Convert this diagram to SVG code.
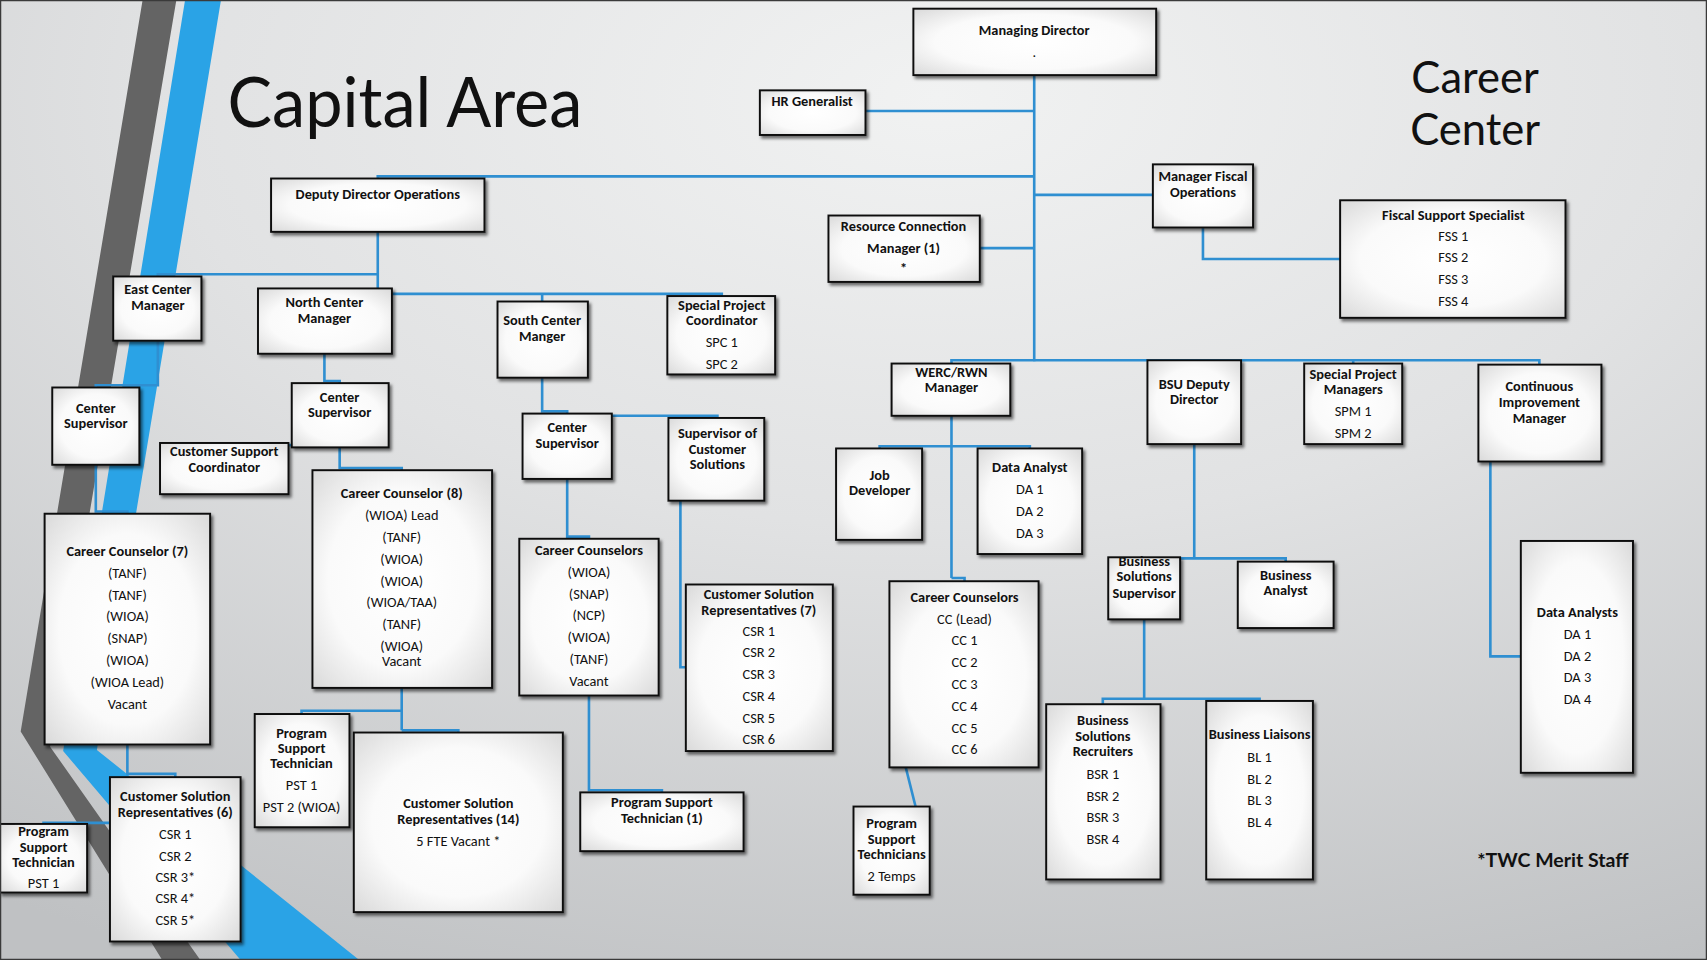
<svg xmlns="http://www.w3.org/2000/svg" width="1707" height="960" viewBox="0 0 1707 960">
<defs>
<radialGradient id="bg" cx="0.55" cy="0.1" r="1" gradientUnits="objectBoundingBox">
<stop offset="0" stop-color="#f1f2f2"/>
<stop offset="0.45" stop-color="#e1e2e3"/>
<stop offset="1" stop-color="#bfc1c3"/>
</radialGradient>
<radialGradient id="box" cx="0.5" cy="0.5" r="0.75">
<stop offset="0" stop-color="#ffffff"/>
<stop offset="0.55" stop-color="#fafafa"/>
<stop offset="1" stop-color="#d4d4d4"/>
</radialGradient>
<filter id="sh" x="-10%" y="-10%" width="130%" height="130%">
<feDropShadow dx="2" dy="2.5" stdDeviation="1.6" flood-color="#000" flood-opacity="0.55"/>
</filter>
<style>
.n rect{fill:url(#box);stroke:#111;stroke-width:1.8;filter:url(#sh)}
.n text{font-family:Carlito,Lato,"Liberation Sans",sans-serif;text-anchor:middle;fill:#111}
.b{font-weight:bold;font-size:13.2px}
.r{font-weight:normal;font-size:13.2px}
.c line,.c polyline{stroke:#2f8fd1;stroke-width:2.4;fill:none}
.t{font-family:Lato,"Open Sans","Liberation Sans",sans-serif;fill:#111}
</style>
</defs>
<rect x="0" y="0" width="1707" height="960" fill="url(#bg)"/>
<g transform="scale(1.08865 1.08844)">
<g id="decor">
<polygon points="131,0 162,0 46,686 184,882 149,882 19,672" fill="#646464"/>
<polygon points="170,0 203,0 89,689 330,882 221,882 58,690" fill="#2aa3e6"/>
</g>
<g id="titles">
<text class="t" x="209" y="117" font-size="64" textLength="326" lengthAdjust="spacingAndGlyphs">Capital Area</text>
<text class="t" x="1355" y="85" font-size="40" text-anchor="middle">Career</text>
<text class="t" x="1355" y="133" font-size="40" text-anchor="middle">Center</text>
<text class="t" x="1357" y="797" font-size="18" font-weight="bold" textLength="139" lengthAdjust="spacingAndGlyphs">*TWC Merit Staff</text>
</g>
<g id="connectors" class="c">
<line x1="950" y1="69" x2="950" y2="332"/>
<line x1="795" y1="102" x2="950" y2="102"/>
<polyline points="347,164 347,162 950,162"/>
<line x1="950" y1="179" x2="1059" y2="179"/>
<polyline points="1105,209 1105,238 1231,238"/>
<line x1="900" y1="228" x2="950" y2="228"/>
<polyline points="874,334 874,331 1414,331 1414,335"/>
<line x1="1243" y1="331" x2="1243" y2="334"/>
<line x1="347" y1="213" x2="347" y2="270"/>
<polyline points="145,254 145,252 347,252"/>
<polyline points="298,265 298,268 347,268"/>
<polyline points="347,270 663,270 663,272"/>
<line x1="498" y1="270" x2="498" y2="277"/>
<polyline points="298,325 298,350 312,350 312,352"/>
<polyline points="206,407 206,409 268,409"/>
<polyline points="312,411 312,430 369,430 369,432"/>
<line x1="369" y1="632" x2="369" y2="671"/>
<polyline points="277,656 277,653 369,653"/>
<polyline points="369,671 421,671 421,673"/>
<polyline points="145,313 145,354 88,354 88,356"/>
<polyline points="88,427 88,470 117,470 117,472"/>
<polyline points="117,684 117,711 161,711 161,714"/>
<polyline points="40,757 40,756 101,756"/>
<polyline points="498,347 498,378 521,378 521,380"/>
<polyline points="562,382 659,382 659,384"/>
<polyline points="521,440 521,493 541,493 541,495"/>
<polyline points="541,639 541,726 608,726 608,728"/>
<polyline points="625,460 625,613 630,613"/>
<line x1="874" y1="382" x2="874" y2="531"/>
<polyline points="808,412 808,410 946,410 946,412"/>
<polyline points="874,531 886,531 886,534"/>
<line x1="832" y1="705" x2="841" y2="741"/>
<line x1="1097" y1="408" x2="1097" y2="513"/>
<polyline points="1051,512 1051,513 1181,513 1181,516"/>
<line x1="1051" y1="569" x2="1051" y2="642"/>
<polyline points="1013,647 1013,642 1157,642 1157,644"/>
<polyline points="1369,424 1369,603 1397,603"/>
</g>
<g id="md" class="n"><rect x="839" y="8" width="223" height="61"/><text class="b" x="950"><tspan x="950" y="32">Managing Director</tspan><tspan class="r" x="950" y="52">.</tspan></text></g>
<g id="hr" class="n"><rect x="698" y="83" width="97" height="41"/><text class="b"><tspan x="746" y="97">HR Generalist</tspan></text></g>
<g id="ddo" class="n"><rect x="249" y="164" width="196" height="49"/><text class="b"><tspan x="347" y="183">Deputy Director Operations</tspan></text></g>
<g id="mfo" class="n"><rect x="1059" y="151" width="92" height="58"/><text class="b"><tspan x="1105" y="166">Manager Fiscal</tspan><tspan x="1105" y="181">Operations</tspan></text></g>
<g id="fss" class="n"><rect x="1231" y="184" width="207" height="108"/><text class="b"><tspan x="1335" y="202">Fiscal Support Specialist</tspan></text><text class="r"><tspan x="1335" y="221">FSS 1</tspan><tspan x="1335" y="241">FSS 2</tspan><tspan x="1335" y="261">FSS 3</tspan><tspan x="1335" y="281">FSS 4</tspan></text></g>
<g id="rcm" class="n"><rect x="761" y="198" width="139" height="61"/><text class="b"><tspan x="830" y="212">Resource Connection</tspan><tspan x="830" y="232">Manager (1)</tspan><tspan x="830" y="251">*</tspan></text></g>
<g id="ecm" class="n"><rect x="104" y="254" width="81" height="59"/><text class="b"><tspan x="145" y="270">East Center</tspan><tspan x="145" y="285">Manager</tspan></text></g>
<g id="ncm" class="n"><rect x="237" y="265" width="123" height="60"/><text class="b"><tspan x="298" y="282">North Center</tspan><tspan x="298" y="297">Manager</tspan></text></g>
<g id="scm" class="n"><rect x="457" y="277" width="83" height="70"/><text class="b"><tspan x="498" y="299">South Center</tspan><tspan x="498" y="313">Manger</tspan></text></g>
<g id="spc" class="n"><rect x="613" y="272" width="99" height="72"/><text class="b"><tspan x="663" y="285">Special Project</tspan><tspan x="663" y="299">Coordinator</tspan></text><text class="r"><tspan x="663" y="319">SPC 1</tspan><tspan x="663" y="339">SPC 2</tspan></text></g>
<g id="cs-east" class="n"><rect x="48" y="356" width="80" height="71"/><text class="b"><tspan x="88" y="379">Center</tspan><tspan x="88" y="393">Supervisor</tspan></text></g>
<g id="cs-north" class="n"><rect x="268" y="352" width="89" height="59"/><text class="b"><tspan x="312" y="369">Center</tspan><tspan x="312" y="383">Supervisor</tspan></text></g>
<g id="csc" class="n"><rect x="147" y="407" width="118" height="47"/><text class="b"><tspan x="206" y="419">Customer Support</tspan><tspan x="206" y="434">Coordinator</tspan></text></g>
<g id="cs-south" class="n"><rect x="480" y="380" width="82" height="60"/><text class="b"><tspan x="521" y="397">Center</tspan><tspan x="521" y="412">Supervisor</tspan></text></g>
<g id="scs" class="n"><rect x="614" y="384" width="88" height="76"/><text class="b"><tspan x="659" y="402">Supervisor of</tspan><tspan x="659" y="417">Customer</tspan><tspan x="659" y="431">Solutions</tspan></text></g>
<g id="werc" class="n"><rect x="819" y="334" width="109" height="48"/><text class="b"><tspan x="874" y="346">WERC/RWN</tspan><tspan x="874" y="360">Manager</tspan></text></g>
<g id="bsu" class="n"><rect x="1054" y="331" width="86" height="77"/><text class="b"><tspan x="1097" y="357">BSU Deputy</tspan><tspan x="1097" y="371">Director</tspan></text></g>
<g id="spm" class="n"><rect x="1198" y="334" width="90" height="74"/><text class="b"><tspan x="1243" y="348">Special Project</tspan><tspan x="1243" y="362">Managers</tspan></text><text class="r"><tspan x="1243" y="382">SPM 1</tspan><tspan x="1243" y="402">SPM 2</tspan></text></g>
<g id="cim" class="n"><rect x="1358" y="335" width="113" height="89"/><text class="b"><tspan x="1414" y="359">Continuous</tspan><tspan x="1414" y="374">Improvement</tspan><tspan x="1414" y="389">Manager</tspan></text></g>
<g id="jd" class="n"><rect x="768" y="412" width="79" height="84"/><text class="b"><tspan x="808" y="441">Job</tspan><tspan x="808" y="455">Developer</tspan></text></g>
<g id="da-werc" class="n"><rect x="898" y="412" width="96" height="97"/><text class="b"><tspan x="946" y="434">Data Analyst</tspan></text><text class="r"><tspan x="946" y="454">DA 1</tspan><tspan x="946" y="474">DA 2</tspan><tspan x="946" y="494">DA 3</tspan></text></g>
<g id="cc7" class="n"><rect x="41" y="472" width="152" height="212"/><text class="b"><tspan x="117" y="511">Career Counselor (7)</tspan></text><text class="r"><tspan x="117" y="531">(TANF)</tspan><tspan x="117" y="551">(TANF)</tspan><tspan x="117" y="571">(WIOA)</tspan><tspan x="117" y="591">(SNAP)</tspan><tspan x="117" y="611">(WIOA)</tspan><tspan x="117" y="631">(WIOA Lead)</tspan><tspan x="117" y="651">Vacant</tspan></text></g>
<g id="cc8" class="n"><rect x="287" y="432" width="165" height="200"/><text class="b"><tspan x="369" y="458">Career Counselor (8)</tspan></text><text class="r"><tspan x="369" y="478">(WIOA) Lead</tspan><tspan x="369" y="498">(TANF)</tspan><tspan x="369" y="518">(WIOA)</tspan><tspan x="369" y="538">(WIOA)</tspan><tspan x="369" y="558">(WIOA/TAA)</tspan><tspan x="369" y="578">(TANF)</tspan><tspan x="369" y="598">(WIOA)</tspan><tspan x="369" y="612">Vacant</tspan></text></g>
<g id="cc-south" class="n"><rect x="477" y="495" width="128" height="144"/><text class="b"><tspan x="541" y="510">Career Counselors</tspan></text><text class="r"><tspan x="541" y="530">(WIOA)</tspan><tspan x="541" y="550">(SNAP)</tspan><tspan x="541" y="570">(NCP)</tspan><tspan x="541" y="590">(WIOA)</tspan><tspan x="541" y="610">(TANF)</tspan><tspan x="541" y="630">Vacant</tspan></text></g>
<g id="csr7" class="n"><rect x="630" y="537" width="135" height="153"/><text class="b"><tspan x="697" y="550">Customer Solution</tspan><tspan x="697" y="565">Representatives (7)</tspan></text><text class="r"><tspan x="697" y="584">CSR 1</tspan><tspan x="697" y="604">CSR 2</tspan><tspan x="697" y="624">CSR 3</tspan><tspan x="697" y="644">CSR 4</tspan><tspan x="697" y="664">CSR 5</tspan><tspan x="697" y="684">CSR 6</tspan></text></g>
<g id="cc-werc" class="n"><rect x="817" y="534" width="137" height="171"/><text class="b"><tspan x="886" y="553">Career Counselors</tspan></text><text class="r"><tspan x="886" y="573">CC (Lead)</tspan><tspan x="886" y="593">CC 1</tspan><tspan x="886" y="613">CC 2</tspan><tspan x="886" y="633">CC 3</tspan><tspan x="886" y="653">CC 4</tspan><tspan x="886" y="673">CC 5</tspan><tspan x="886" y="693">CC 6</tspan></text></g>
<g id="bss" class="n"><rect x="1018" y="512" width="66" height="57"/><text class="b"><tspan x="1051" y="520">Business</tspan><tspan x="1051" y="534">Solutions</tspan><tspan x="1051" y="549">Supervisor</tspan></text></g>
<g id="ba" class="n"><rect x="1137" y="516" width="88" height="61"/><text class="b"><tspan x="1181" y="533">Business</tspan><tspan x="1181" y="547">Analyst</tspan></text></g>
<g id="das" class="n"><rect x="1397" y="497" width="103" height="213"/><text class="b"><tspan x="1449" y="567">Data Analysts</tspan></text><text class="r"><tspan x="1449" y="587">DA 1</tspan><tspan x="1449" y="607">DA 2</tspan><tspan x="1449" y="627">DA 3</tspan><tspan x="1449" y="647">DA 4</tspan></text></g>
<g id="pst-north" class="n"><rect x="234" y="656" width="87" height="104"/><text class="b"><tspan x="277" y="678">Program</tspan><tspan x="277" y="692">Support</tspan><tspan x="277" y="706">Technician</tspan></text><text class="r"><tspan x="277" y="726">PST 1</tspan><tspan x="277" y="746">PST 2 (WIOA)</tspan></text></g>
<g id="csr14" class="n"><rect x="325" y="673" width="192" height="165"/><text class="b"><tspan x="421" y="742">Customer Solution</tspan><tspan x="421" y="757">Representatives (14)</tspan></text><text class="r"><tspan x="421" y="777">5 FTE Vacant *</tspan></text></g>
<g id="pst-south" class="n"><rect x="533" y="728" width="150" height="54"/><text class="b"><tspan x="608" y="741">Program Support</tspan><tspan x="608" y="756">Technician (1)</tspan></text></g>
<g id="csr6" class="n"><rect x="101" y="714" width="120" height="151"/><text class="b"><tspan x="161" y="736">Customer Solution</tspan><tspan x="161" y="751">Representatives (6)</tspan></text><text class="r"><tspan x="161" y="771">CSR 1</tspan><tspan x="161" y="791">CSR 2</tspan><tspan x="161" y="810">CSR 3*</tspan><tspan x="161" y="830">CSR 4*</tspan><tspan x="161" y="850">CSR 5*</tspan></text></g>
<g id="pst-east" class="n"><rect x="0" y="757" width="80" height="63"/><text class="b"><tspan x="40" y="768">Program</tspan><tspan x="40" y="783">Support</tspan><tspan x="40" y="797">Technician</tspan></text><text class="r"><tspan x="40" y="816">PST 1</tspan></text></g>
<g id="pst-werc" class="n"><rect x="784" y="741" width="70" height="81"/><text class="b"><tspan x="819" y="761">Program</tspan><tspan x="819" y="775">Support</tspan><tspan x="819" y="789">Technicians</tspan></text><text class="r"><tspan x="819" y="809">2 Temps</tspan></text></g>
<g id="bsr" class="n"><rect x="961" y="647" width="105" height="161"/><text class="b"><tspan x="1013" y="666">Business</tspan><tspan x="1013" y="681">Solutions</tspan><tspan x="1013" y="695">Recruiters</tspan></text><text class="r"><tspan x="1013" y="716">BSR 1</tspan><tspan x="1013" y="736">BSR 2</tspan><tspan x="1013" y="755">BSR 3</tspan><tspan x="1013" y="775">BSR 4</tspan></text></g>
<g id="bl" class="n"><rect x="1108" y="644" width="98" height="164"/><text class="b"><tspan x="1157" y="679">Business Liaisons</tspan></text><text class="r"><tspan x="1157" y="700">BL 1</tspan><tspan x="1157" y="720">BL 2</tspan><tspan x="1157" y="740">BL 3</tspan><tspan x="1157" y="760">BL 4</tspan></text></g>
</g>
<rect x="0.5" y="0.5" width="1706" height="959" fill="none" stroke="#3a3a3a" stroke-width="1.5"/>
</svg>
